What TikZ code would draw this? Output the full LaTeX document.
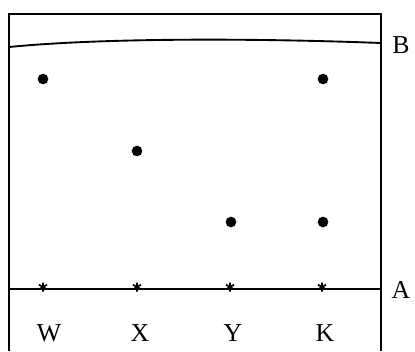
\documentclass[tikz,border=0pt]{standalone}
\usepackage{fontspec}
\setmainfont{Liberation Serif}
\begin{document}
\begin{tikzpicture}[x=0.03cm,y=-0.03cm,
  frame/.style={line width=1.6pt,black},
  spot/.style={circle,fill=black,inner sep=0pt,minimum size=0.32cm},
  lbl/.style={font=\fontsize{22}{24}\selectfont,inner sep=0pt},
  asterisk/.pic={\draw[line width=1.5pt] (0,-4.5) -- (0,4.5) (-4,-2.3) -- (4,2.3) (-4,2.3) -- (4,-2.3);}]
\useasboundingbox (0,0) rectangle (415,351);
% frame
\draw[frame] (9,351) -- (9,14) -- (381,14) -- (381,351);
% solvent front B
\draw[frame] (9,47) .. controls (100,38) and (250,38) .. (381,43);
% origin line A
\draw[frame] (9,289) -- (381,289);
\node[lbl] (B) at (401,45) {B};
\node[lbl] (A) at (401,290) {A};
% start marks
\coordinate (sw) at (43,287);
\coordinate (sx) at (137,287);
\coordinate (sy) at (230,287);
\coordinate (sk) at (322,287);
\foreach \c in {sw,sx,sy,sk} \pic at (\c) {asterisk};
% labels
\node[lbl] (W) at (49,333) {W};
\node[lbl] (X) at (140,333) {X};
\node[lbl] (Y) at (233,333) {Y};
\node[lbl] (K) at (325,333) {K};
% spots
\node[spot] (d1) at (43,79) {};
\node[spot] (d2) at (137,151) {};
\node[spot] (d3) at (231,222) {};
\node[spot] (d4) at (323,222) {};
\node[spot] (d5) at (323,79) {};
\end{tikzpicture}
\end{document}
